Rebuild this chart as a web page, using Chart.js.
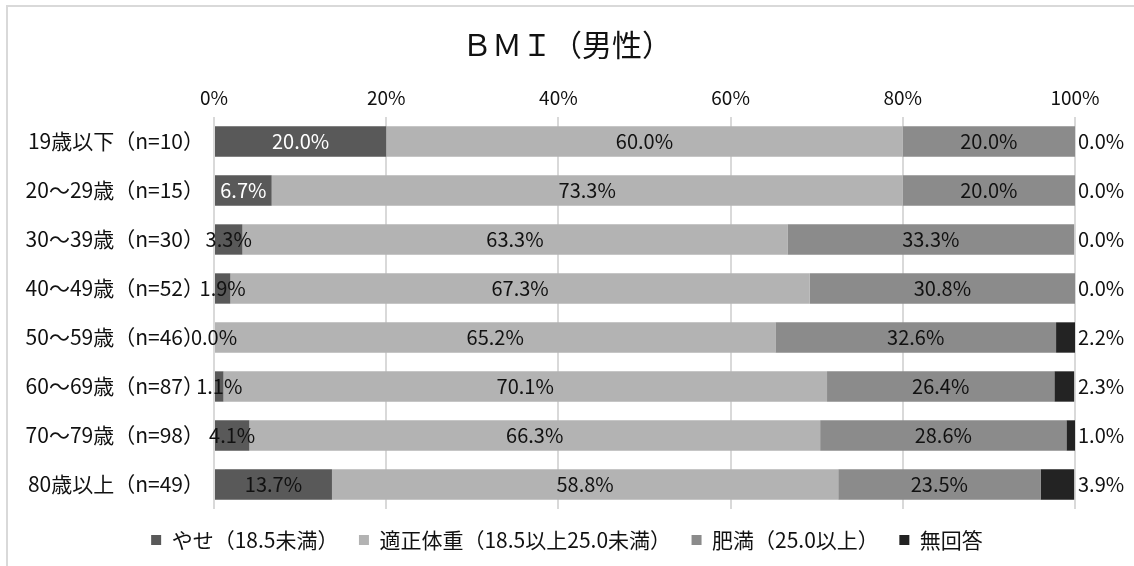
<!DOCTYPE html>
<html>
<head>
<meta charset="utf-8">
<script src="https://cdn.jsdelivr.net/npm/chart.js@4/dist/chart.umd.min.js"></script>
<style>
  body { margin: 0; background: #fff; }
  #frame { position: absolute; left: 6px; top: 5px; width: 1200px; height: 600px;
           border-top: 2px solid #d9d9d9; border-left: 2px solid #d9d9d9; }
  #wrap { position: absolute; left: 0; top: 0; width: 1134px; height: 566px; }
</style>
</head>
<body>
<div id="frame"></div>
<div id="wrap"><canvas id="bmiChart"></canvas></div>
<script>
// categories
const ageGroups = [
    "19歳以下（n=10）",
    "20～29歳（n=15）",
    "30～39歳（n=30）",
    "40～49歳（n=52）",
    "50～59歳（n=46）",
    "60～69歳（n=87）",
    "70～79歳（n=98）",
    "80歳以上（n=49）"
];

const seriesNames = ["やせ（18.5未満）", "適正体重（18.5以上25.0未満）", "肥満（25.0以上）", "無回答"];

// percentages per age group
const thin      = [20.0, 6.7, 3.3, 1.9, 0.0, 1.1, 4.1, 13.7];
const normal    = [60.0, 73.3, 63.3, 67.3, 65.2, 70.1, 66.3, 58.8];
const obese     = [20.0, 20.0, 33.3, 30.8, 32.6, 26.4, 28.6, 23.5];
const noAnswer  = [0.0, 0.0, 0.0, 0.0, 2.2, 2.3, 1.0, 3.9];

const xTicks = [0, 20, 40, 60, 80, 100];

const FONT = '"Noto Sans CJK JP", sans-serif';
const colors = ["#595959", "#b3b3b3", "#8b8b8b", "#232323"];

// labels on bars: centred in the segment, 無回答 placed after the bar end
const valueLabels = {
    id: "valueLabels",
    afterDatasetsDraw(chart) {
        const ctx = chart.ctx;
        ctx.save();
        ctx.font = "20px " + FONT;
        ctx.textBaseline = "middle";
        chart.data.datasets.forEach((ds, i) => {
            const meta = chart.getDatasetMeta(i);
            meta.data.forEach((bar, j) => {
                const text = ds.data[j].toFixed(1) + "%";
                if (i === 3) {
                    ctx.textAlign = "left";
                    ctx.fillStyle = "#111";
                    ctx.fillText(text, chart.chartArea.right + 3, bar.y);
                } else {
                    ctx.textAlign = "center";
                    ctx.fillStyle = (i === 0 && j < 2) ? "#fff" : "#111";
                    ctx.fillText(text, (bar.x + bar.base) / 2, bar.y);
                }
            });
        });
        ctx.restore();
    }
};

const ctx = document.getElementById("bmiChart").getContext("2d");

new Chart(ctx, {
    type: "bar",
    data: {
        labels: ageGroups,
        datasets: [thin, normal, obese, noAnswer].map((d, i) => ({
            label: seriesNames[i],
            data: d,
            backgroundColor: colors[i],
            borderWidth: 0,
            barPercentage: 0.62,
            categoryPercentage: 1.0
        }))
    },
    options: {
        indexAxis: "y",
        responsive: true,
        maintainAspectRatio: false,
        animation: false,
        layout: { padding: { top: 0, left: 0, right: 0, bottom: 5.5 } },
        scales: {
            x: {
                position: "top",
                stacked: true,
                min: 0,
                max: 100,
                afterBuildTicks: (scale) => { scale.ticks = xTicks.map(v => ({ value: v })); },
                afterFit: (scale) => { scale.height = 54; },
                ticks: {
                    callback: (v) => v + "%",
                    color: "#111",
                    padding: 8,
                    font: { family: FONT, size: 19 }
                },
                grid: { color: "#d9d9d9", lineWidth: 2, drawTicks: false },
                border: { display: false }
            },
            y: {
                stacked: true,
                afterFit: (scale) => { scale.width = 214; },
                ticks: {
                    color: "#111",
                    padding: 2,
                    font: { family: FONT, size: 21 }
                },
                grid: { display: false },
                border: { display: false }
            },
            // empty right margin that holds the 無回答 labels
            yRight: {
                type: "category",
                position: "right",
                display: true,
                afterFit: (scale) => { scale.width = 59; },
                ticks: { display: false },
                grid: { display: false },
                border: { display: false }
            }
        },
        plugins: {
            title: {
                display: true,
                text: "ＢＭＩ（男性）",
                color: "#111",
                font: { family: FONT, size: 30, weight: "normal" },
                padding: { top: 27, bottom: 0 }
            },
            legend: {
                position: "bottom",
                labels: {
                    color: "#111",
                    boxWidth: 10,
                    boxHeight: 10,
                    padding: 20.5,
                    font: { family: FONT, size: 21 }
                }
            },
            tooltip: { enabled: false }
        }
    },
    plugins: [valueLabels]
});
</script>
</body>
</html>
